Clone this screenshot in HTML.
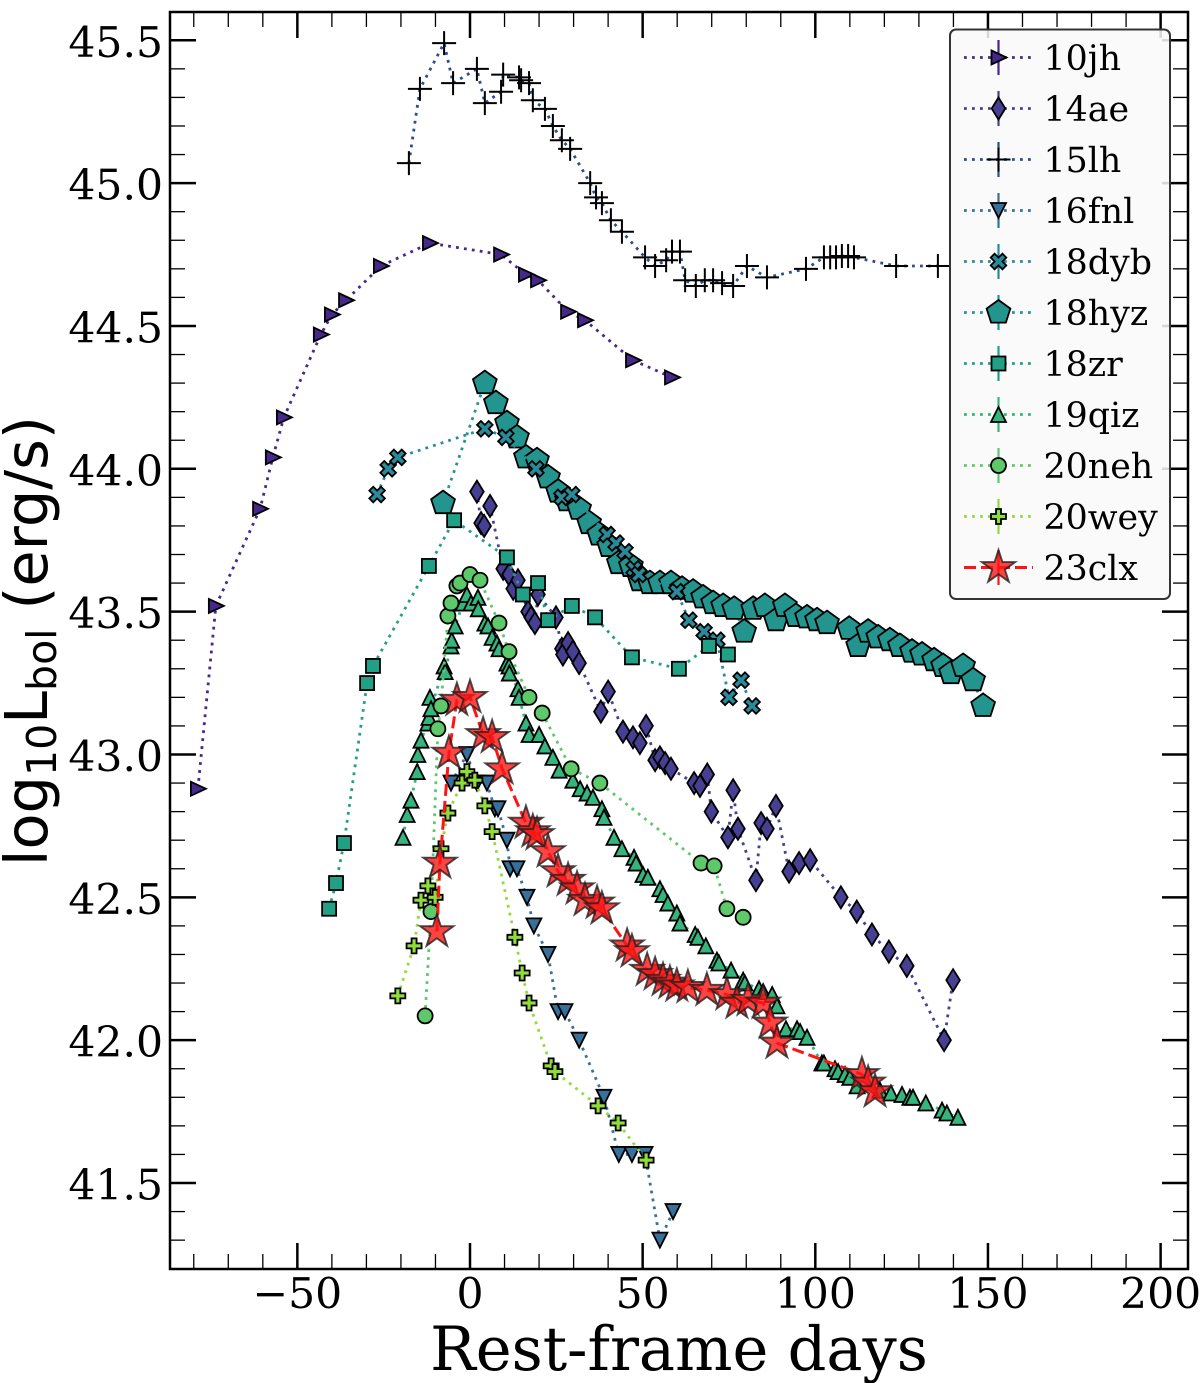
<!DOCTYPE html>
<html lang="en">
<head>
<meta charset="utf-8">
<title>Bolometric luminosity light curves</title>
<style>
html,body{margin:0;padding:0;background:#fff;width:1200px;height:1383px;overflow:hidden}
svg{display:block}
text{fill:#000;font-family:"DejaVu Serif","Liberation Serif",serif}
</style>
</head>
<body>
<svg id="chart" xmlns="http://www.w3.org/2000/svg" width="1200" height="1383" viewBox="0 0 1200 1383">
  <rect x="0" y="0" width="1200" height="1383" fill="#fff"/>
  <g id="series-layer"></g>
  <g id="tick-layer"></g>
  <rect x="170" y="12" width="1018" height="1257" fill="none" stroke="#000" stroke-width="2.5"/>
  <g id="legend-layer">
    <rect x="950" y="29.5" width="220" height="569.5" rx="6" ry="6" fill="#f9f9f9" fill-opacity="0.86" stroke="#333" stroke-width="2"/>
  </g>
  <text x="679" y="1370" font-size="60.6" text-anchor="middle">Rest-frame days</text>
  <text transform="translate(47 641) rotate(-90)" font-size="59" text-anchor="middle" style="font-family:'DejaVu Sans','Liberation Sans',sans-serif">log<tspan dy="9" font-size="41" style="font-family:'DejaVu Sans',sans-serif">10</tspan><tspan dy="-9">L</tspan><tspan dy="9" font-size="41">bol</tspan><tspan dy="-9"> (erg/s)</tspan></text>
</svg>
<script>
// ---------- data (rest-frame days, log10 L_bol) ----------
const days10jh = [-78.8,-73.6,-60.8,-57.1,-53.9,-43.2,-40,-35.9,-25.8,-11.6,9,16.2,19.7,28.4,33.3,47.2,58.5];
const lum10jh  = [42.88,43.52,43.86,44.04,44.18,44.47,44.54,44.59,44.71,44.79,44.75,44.68,44.66,44.55,44.52,44.38,44.32];

const days14ae = [2,3.2,4.1,5.8,9.6,11.3,12.5,13.9,16.8,17.7,18.8,19.7,24.9,26.6,26.9,28.4,29.8,31.6,37.9,40,44.3,47.2,49.2,51,53.6,55,56.5,58.2,64.9,66.6,68.7,69.9,74.7,76.2,77.6,82.8,84.3,86,88.6,92.4,95.3,98.5,107.4,112,116.4,121.3,126.5,137.3,139.9];
const lum14ae  = [43.92,43.81,43.8,43.87,43.65,43.63,43.58,43.61,43.5,43.48,43.46,43.56,43.48,43.37,43.35,43.39,43.36,43.32,43.15,43.22,43.08,43.06,43.04,43.1,42.98,42.99,42.97,42.95,42.9,42.89,42.93,42.8,42.71,42.875,42.74,42.56,42.76,42.74,42.82,42.59,42.62,42.63,42.5,42.45,42.37,42.31,42.26,42,42.21];

const days15lh = [-17.7,-14.5,-7.5,-4.9,2,4.3,9,9.6,14.2,14.8,17.1,18.2,21.7,24,26.6,29,34.8,36.5,38.2,40.8,44,50.7,53.6,56.8,58.5,60.8,62.3,65.4,68,70.4,73,76.2,80.2,86,97.3,102.5,104.3,106,107.7,109.5,111.2,123.4,135.5];
const lum15lh  = [45.07,45.33,45.49,45.35,45.4,45.28,45.32,45.38,45.37,45.36,45.35,45.29,45.26,45.2,45.15,45.12,45,44.95,44.93,44.87,44.83,44.74,44.71,44.73,44.76,44.76,44.66,44.64,44.66,44.66,44.65,44.64,44.71,44.67,44.7,44.74,44.74,44.74,44.745,44.745,44.74,44.71,44.71];

const days16fnl = [-5.5,-0.9,2,4.9,7.2,8.1,10.7,11.6,13.6,16.5,18.5,22.6,25.5,27.5,31.6,38.8,43.1,46.9,50.7,55,58.8];
const lum16fnl  = [42.9,43,42.9,42.9,42.81,42.81,42.7,42.6,42.6,42.5,42.4,42.3,42.1,42.1,42,41.8,41.6,41.6,41.6,41.3,41.4];

const days18dyb = [-26.9,-23.7,-20.9,4.3,10.4,19.1,26.6,29.5,39.7,42.3,44.9,47.5,48.9,59.9,63.4,67.8,71.5,75,78.5,81.7];
const lum18dyb  = [43.91,44,44.04,44.14,44.11,44,43.9,43.91,43.77,43.74,43.71,43.65,43.63,43.57,43.47,43.43,43.4,43.2,43.26,43.17];

const days18hyz = [-7.8,4.3,7.5,10.7,13.6,16.2,19.4,22.6,25.5,28.1,31.6,34.5,37.4,40.3,43.1,46.6,49.2,52.1,55,58.2,61.4,64.6,67.5,70.4,73.3,76.5,79.4,82,85.4,88.6,91.2,94.4,97.6,100.5,103.4,109.8,112.4,115.3,118.2,121.6,124.5,128,130.9,134.4,137,139.3,142.8,145.7,148.6];
const lum18hyz  = [43.88,44.3,44.23,44.16,44.11,44.04,44.03,43.97,43.92,43.89,43.86,43.81,43.77,43.73,43.67,43.66,43.61,43.6,43.6,43.6,43.58,43.57,43.55,43.53,43.52,43.51,43.43,43.51,43.52,43.47,43.52,43.485,43.48,43.47,43.46,43.44,43.38,43.43,43.41,43.4,43.38,43.36,43.35,43.33,43.31,43.285,43.31,43.26,43.17];

const days18zr = [-40.8,-38.8,-36.5,-29.8,-28.1,-11.9,-4.6,10.7,15.3,19.7,22.6,29.5,36.2,46.9,60.5,69.2,74.7];
const lum18zr  = [42.46,42.55,42.69,43.25,43.31,43.66,43.82,43.69,43.56,43.6,43.47,43.52,43.48,43.34,43.3,43.38,43.35];

const days19qiz = [-19.4,-18.2,-17.1,-15.3,-15.1,-14.2,-12.2,-11.9,-11.6,-11.3,-7.5,-7.2,-5.5,-5.3,-4.3,-2,-0.9,0.3,2.3,2.4,4.3,5.2,6.4,7.8,8.4,10.7,11.3,11.4,13.9,14.2,16.2,17.1,20,21.7,24,25.8,29.8,31.9,33.9,35.6,38.2,38.8,41.7,44,47.5,48.1,50.1,51.5,55,55.9,57.3,59.9,60.8,65.2,66,68.3,71.5,72.1,75.6,79.1,79.6,83.7,84.9,87.5,88.9,91.5,94.7,95.6,97.6,101.9,102.5,105.7,106.6,108.6,110,112.1,118.7,121.9,125.1,127.4,128.3,132,136.7,138.1,141.3];
const lum19qiz  = [42.71,42.79,42.84,42.94,43,43.05,43.11,43.13,43.2,43.16,43.31,43.29,43.38,43.4,43.45,43.53,43.56,43.53,43.55,43.51,43.46,43.45,43.41,43.39,43.37,43.32,43.31,43.285,43.23,43.2,43.11,43.07,43.07,43.03,42.99,42.945,42.91,42.88,42.865,42.85,42.81,42.78,42.71,42.67,42.64,42.62,42.58,42.57,42.53,42.51,42.48,42.445,42.41,42.37,42.36,42.33,42.28,42.27,42.245,42.21,42.2,42.18,42.17,42.16,42.12,42.04,42.04,42.03,42.01,41.92,41.92,41.9,41.89,41.88,41.87,41.84,41.825,41.815,41.81,41.8,41.8,41.78,41.755,41.745,41.73];

const days20neh = [-13,-11.3,-9.3,-8.4,-6.4,-5.5,-3.8,-2.9,0,2.9,8.4,11.3,17.1,20.9,29.3,37.6,66.9,70.7,74.4,79.1];
const lum20neh  = [42.085,42.45,43.09,43.17,43.485,43.53,43.59,43.6,43.63,43.61,43.46,43.36,43.2,43.145,42.95,42.9,42.62,42.61,42.46,42.43];

const days20wey = [-20.9,-16.2,-14.2,-12.2,-10.1,-8.4,-6.4,-2.3,-0.9,1.4,4.3,6.4,13,15.1,17.1,23.5,24.6,37.1,42.9,51];
const lum20wey  = [42.155,42.33,42.49,42.54,42.5,42.67,42.795,42.9,42.94,42.91,42.82,42.73,42.36,42.235,42.13,41.91,41.89,41.77,41.71,41.58];

const days23clx = [-9.6,-8.7,-6.1,-3.8,0,3.8,6.4,9.3,16.2,18.2,19.4,22.6,25.5,28.4,31,33.3,36.8,38.2,45.5,46.9,51.3,53.6,55.9,57.9,59.9,63.1,68.6,74.4,77.3,80.5,84.9,86.9,88.9,113.5,115.3,117.3];
const lum23clx  = [42.38,42.62,43.005,43.19,43.2,43.07,43.06,42.95,42.76,42.73,42.72,42.66,42.59,42.56,42.53,42.49,42.48,42.46,42.33,42.31,42.245,42.23,42.21,42.2,42.19,42.185,42.175,42.16,42.13,42.14,42.13,42.06,41.99,41.88,41.85,41.82];

const seriesNames = ['10jh','14ae','15lh','16fnl','18dyb','18hyz','18zr','19qiz','20neh','20wey','23clx'];
const seriesDays  = [days10jh,days14ae,days15lh,days16fnl,days18dyb,days18hyz,days18zr,days19qiz,days20neh,days20wey,days23clx];
const seriesLums  = [lum10jh,lum14ae,lum15lh,lum16fnl,lum18dyb,lum18hyz,lum18zr,lum19qiz,lum20neh,lum20wey,lum23clx];

const xMajorTicks = [-50,0,50,100,150,200];
const xTickLabels = ['\u221250','0','50','100','150','200'];
const yMajorTicks = [41.5,42,42.5,43,43.5,44,44.5,45,45.5];
const yTickLabels = ['41.5','42.0','42.5','43.0','43.5','44.0','44.5','45.0','45.5'];

// ---------- styles ----------
const seriesColors = ['#45288a','#473f92','#2b4c8f','#37709b','#2a8a9a','#24958e','#22a085','#35b57d','#5ec96a','#90dc3c','#ff1414'];
const seriesMarkers = ['tri-right','diamond','plus','tri-down','x','pentagon','square','tri-up','circle','plus-filled','star'];
// 18hyz sits underneath every other series in the reference
const drawOrder = [5,0,1,2,3,4,6,7,8,9,10];

// ---------- axes ----------
const PLOT = {left:170,right:1188,top:12,bottom:1269};
const xDomain = [-86.88,207.93];
const yDomain = [41.199,45.599];
function xScale(d){return PLOT.left+(d-xDomain[0])/(xDomain[1]-xDomain[0])*(PLOT.right-PLOT.left);}
function yScale(v){return PLOT.bottom-(v-yDomain[0])/(yDomain[1]-yDomain[0])*(PLOT.bottom-PLOT.top);}

const NS='http://www.w3.org/2000/svg';
function mk(tag,parent){const e=document.createElementNS(NS,tag);parent.appendChild(e);return e;}
function pts(list,cx,cy,k){return list.map(p=>(cx+p[0]*k).toFixed(2)+','+(cy+p[1]*k).toFixed(2)).join(' ');}

function polygonRadial(n,r,cx,cy){
  const out=[];
  for(let i=0;i<n;i++){const a=-Math.PI/2+i*2*Math.PI/n;out.push((cx+r*Math.cos(a)).toFixed(2)+','+(cy+r*Math.sin(a)).toFixed(2));}
  return out.join(' ');
}
function starPts(R,cx,cy){
  const out=[];const r=R*0.381966;
  for(let i=0;i<10;i++){const a=-Math.PI/2+i*Math.PI/5;const q=i%2?r:R;out.push((cx+q*Math.cos(a)).toFixed(2)+','+(cy+q*Math.sin(a)).toFixed(2));}
  return out.join(' ');
}
const X_SHAPE=[[-1,-2],[0,-1],[1,-2],[2,-1],[1,0],[2,1],[1,2],[0,1],[-1,2],[-2,1],[-1,0],[-2,-1]];
const P_SHAPE=[[-1,-3],[1,-3],[1,-1],[3,-1],[3,1],[1,1],[1,3],[-1,3],[-1,1],[-3,1],[-3,-1],[-1,-1]];

function drawMarker(parent,kind,color,cx,cy){
  let e;
  if(kind==='tri-right'){e=mk('polygon',parent);e.setAttribute('points',pts([[-7,-7],[8,0],[-7,7]],cx,cy,1));}
  else if(kind==='tri-up'){e=mk('polygon',parent);e.setAttribute('points',pts([[0,-7.5],[7.5,7.5],[-7.5,7.5]],cx,cy,1));}
  else if(kind==='tri-down'){e=mk('polygon',parent);e.setAttribute('points',pts([[0,7.5],[7.5,-7.5],[-7.5,-7.5]],cx,cy,1));}
  else if(kind==='diamond'){e=mk('polygon',parent);e.setAttribute('points',pts([[0,-11],[6.8,0],[0,11],[-6.8,0]],cx,cy,1));}
  else if(kind==='square'){e=mk('rect',parent);e.setAttribute('x',cx-7);e.setAttribute('y',cy-7);e.setAttribute('width',14);e.setAttribute('height',14);}
  else if(kind==='circle'){e=mk('circle',parent);e.setAttribute('cx',cx);e.setAttribute('cy',cy);e.setAttribute('r',7.5);}
  else if(kind==='pentagon'){e=mk('polygon',parent);e.setAttribute('points',polygonRadial(5,12.5,cx,cy));}
  else if(kind==='x'){e=mk('polygon',parent);e.setAttribute('points',pts(X_SHAPE,cx,cy,3.9));}
  else if(kind==='plus-filled'){e=mk('polygon',parent);e.setAttribute('points',pts(P_SHAPE,cx,cy,2.5));}
  else if(kind==='star'){e=mk('polygon',parent);e.setAttribute('points',starPts(17.5,cx,cy));}
  else if(kind==='plus'){
    e=mk('path',parent);
    e.setAttribute('d','M'+(cx-12)+' '+cy+'H'+(cx+12)+'M'+cx+' '+(cy-12)+'V'+(cy+12));
    e.setAttribute('fill','none');e.setAttribute('stroke','#000');e.setAttribute('stroke-width','2');
    return e;
  }
  e.setAttribute('fill',color);
  if(kind==='star'){e.setAttribute('stroke','#222');e.setAttribute('stroke-width','1.9');e.setAttribute('fill-opacity','0.8');e.setAttribute('stroke-opacity','0.8');}
  else{e.setAttribute('stroke','#000');e.setAttribute('stroke-width','1.8');e.setAttribute('stroke-linejoin','miter');}
  return e;
}
function styleLine(e,i){
  e.setAttribute('fill','none');
  e.setAttribute('stroke',seriesColors[i]);
  if(seriesMarkers[i]==='star'){e.setAttribute('stroke-width','3');e.setAttribute('stroke-dasharray','12 5');}
  else{e.setAttribute('stroke-width','2.8');e.setAttribute('stroke-dasharray','2.8 5.2');}
}

// ---------- series ----------
const seriesLayer=document.getElementById('series-layer');
drawOrder.forEach(function(i){
  const name=seriesNames[i];
  const days=seriesDays[i],lums=seriesLums[i];
  const order=days.map((_,k)=>k).sort((a,b)=>days[a]-days[b]);
  const g=mk('g',seriesLayer);
  
  
  const line=mk('polyline',g);
  
  
  line.setAttribute('points',order.map(k=>xScale(days[k]).toFixed(2)+','+yScale(lums[k]).toFixed(2)).join(' '));
  styleLine(line,i);
  order.forEach(function(k){
    const m=drawMarker(g,seriesMarkers[i],seriesColors[i],xScale(days[k]),yScale(lums[k]));
    
    
  });
});

// ---------- ticks ----------
const tickLayer=document.getElementById('tick-layer');
function tick(x1,y1,x2,y2,w,name){
  const t=mk('line',tickLayer);
  t.setAttribute('x1',x1);t.setAttribute('y1',y1);t.setAttribute('x2',x2);t.setAttribute('y2',y2);
  t.setAttribute('stroke','#000');t.setAttribute('stroke-width',w);
  
  
}
const MAJ=26,MIN=15;
for(let d=-80;d<=200;d+=10){
  const major=d%50===0,L=major?MAJ:MIN,w=major?2.5:1.3,x=xScale(d);
  tick(x,PLOT.bottom,x,PLOT.bottom-L,w,major?'x-major-tick':'x-minor-tick');
  tick(x,PLOT.top,x,PLOT.top+L,w,major?'x-major-tick-top':'x-minor-tick-top');
}
for(let n=412;n<=455;n++){
  const v=n/10,major=n%5===0,L=major?MAJ:MIN,w=major?2.5:1.3,y=yScale(v);
  tick(PLOT.left,y,PLOT.left+L,y,w,major?'y-major-tick':'y-minor-tick');
  tick(PLOT.right,y,PLOT.right-L,y,w,major?'y-major-tick-right':'y-minor-tick-right');
}
xMajorTicks.forEach(function(d,i){
  const t=mk('text',tickLayer);
  t.setAttribute('x',xScale(d));t.setAttribute('y',1308);
  t.setAttribute('font-size','42.5');t.setAttribute('text-anchor','middle');
  
  
  t.textContent=xTickLabels[i];
});
yMajorTicks.forEach(function(v,i){
  const t=mk('text',tickLayer);
  t.setAttribute('x',163);t.setAttribute('y',yScale(v)+16.5);
  t.setAttribute('font-size','42.5');t.setAttribute('text-anchor','end');
  
  
  t.textContent=yTickLabels[i];
});

// ---------- legend ----------
const legendLayer=document.getElementById('legend-layer');
seriesNames.forEach(function(name,i){
  const y=57.5+i*51;
  const g=mk('g',legendLayer);
  
  
  const ln=mk('line',g);
  ln.setAttribute('x1',964);ln.setAttribute('x2',1033);ln.setAttribute('y1',y);ln.setAttribute('y2',y);
  styleLine(ln,i);
  
  
  const eb=mk('line',g);
  eb.setAttribute('x1',998.5);eb.setAttribute('x2',998.5);eb.setAttribute('y1',y-17.5);eb.setAttribute('y2',y+17.5);
  eb.setAttribute('stroke',seriesColors[i]);eb.setAttribute('stroke-width','2.2');
  
  
  const m=drawMarker(g,seriesMarkers[i],seriesColors[i],998.5,y);
  
  
  const t=mk('text',g);
  t.setAttribute('x',1043.5);t.setAttribute('y',y+12.5);t.setAttribute('font-size','34.8');
  
  
  t.textContent=name;
});
</script>
</body>
</html>
